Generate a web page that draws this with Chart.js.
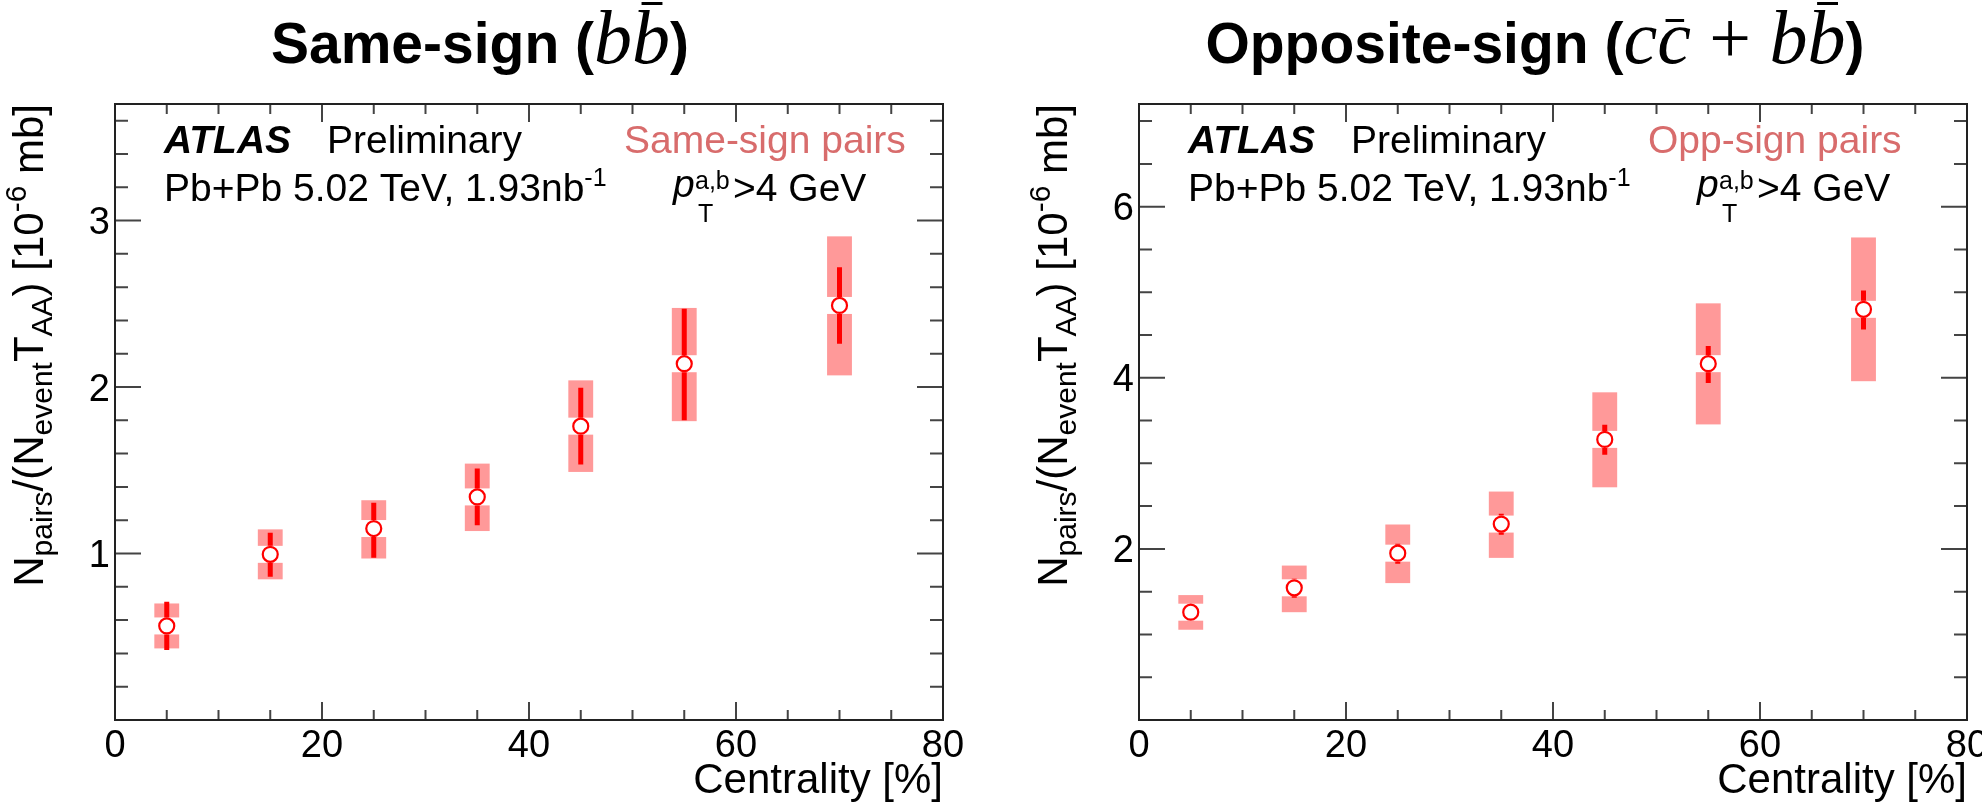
<!DOCTYPE html>
<html>
<head>
<meta charset="utf-8">
<script src="https://cdn.jsdelivr.net/npm/chart.js@4"></script>
<style>
  html, body { margin: 0; padding: 0; background: #fff; }
  #wrap { position: relative; width: 1982px; height: 802px; }
  canvas { position: absolute; top: 0; }
</style>
</head>
<body>
<div id="wrap">
  <canvas id="left" width="991" height="802" style="left:0"></canvas>
  <canvas id="right" width="991" height="802" style="left:991px"></canvas>
</div>
<script>
// centrality bins [%]
const centrality = [5, 15, 25, 35, 45, 55, 70];
const sysHalfWidth = 1.2;

// same-sign pairs (b bbar), 10^-6 mb
const sameVal     = [0.565, 0.995, 1.15, 1.34, 1.765, 2.14, 2.49];
const sameStatLo  = [0.42, 0.86, 0.975, 1.17, 1.535, 1.80, 2.26];
const sameStatHi  = [0.71, 1.125, 1.305, 1.51, 1.995, 2.47, 2.72];
const sameSysLo   = [0.43, 0.845, 0.97, 1.135, 1.49, 1.795, 2.07];
const sameSysHi   = [0.70, 1.145, 1.32, 1.54, 2.04, 2.475, 2.905];

// opposite-sign pairs (c cbar + b bbar)
const oppVal     = [1.26, 1.545, 1.95, 2.29, 3.28, 4.165, 4.80];
const oppStatLo  = [1.17, 1.43, 1.825, 2.165, 3.10, 3.94, 4.565];
const oppStatHi  = [1.35, 1.65, 2.06, 2.41, 3.45, 4.37, 5.02];
const oppSysLo   = [1.055, 1.26, 1.60, 1.895, 2.72, 3.455, 3.96];
const oppSysHi   = [1.46, 1.805, 2.285, 2.67, 3.83, 4.87, 5.64];

// axes
const xTicks = [0, 20, 40, 60, 80];
const sameYTicks = [1, 2, 3];
const oppYTicks = [2, 4, 6];

const SANS = '"Liberation Sans", Arial, sans-serif';
const SERIF = '"Liberation Serif", "Times New Roman", serif';

function rich(ctx, parts, x, y, align) {
  let w = 0;
  parts.forEach(p => { ctx.font = p.font; w += ctx.measureText(p.t).width; });
  let cx = align === 'center' ? x - w / 2 : (align === 'right' ? x - w : x);
  parts.forEach(p => {
    ctx.font = p.font;
    ctx.fillStyle = p.color || '#000';
    ctx.textAlign = 'left';
    ctx.textBaseline = 'alphabetic';
    ctx.fillText(p.t, cx, y + (p.dy || 0));
    const pw = ctx.measureText(p.t).width;
    if (p.barY !== undefined) {
      ctx.fillRect(cx + pw * 0.25, y - p.barY, pw * 0.55, 3);
    }
    cx += pw;
  });
  return w;
}

const errorBoxes = {
  id: 'errorBoxes',
  beforeDatasetsDraw(chart, args, o) {
    const { ctx } = chart;
    const x = chart.scales.x, y = chart.scales.y;
    const gap = 8.5;
    ctx.save();
    o.xs.forEach((cx, i) => {
      const xl = x.getPixelForValue(cx - sysHalfWidth);
      const xr = x.getPixelForValue(cx + sysHalfWidth);
      const xc = x.getPixelForValue(cx);
      const yc = y.getPixelForValue(o.val[i]);
      const t = y.getPixelForValue(o.sysHi[i]);
      const b = y.getPixelForValue(o.sysLo[i]);
      ctx.fillStyle = '#ff9999';
      if (yc - gap > t) ctx.fillRect(xl, t, xr - xl, yc - gap - t);
      if (b > yc + gap) ctx.fillRect(xl, yc + gap, xr - xl, b - yc - gap);
      const st = y.getPixelForValue(o.statHi[i]);
      const sb = y.getPixelForValue(o.statLo[i]);
      ctx.strokeStyle = '#ff0000';
      ctx.lineWidth = 5;
      ctx.beginPath();
      if (st < yc - gap) { ctx.moveTo(xc, st); ctx.lineTo(xc, yc - gap); }
      if (sb > yc + gap) { ctx.moveTo(xc, yc + gap); ctx.lineTo(xc, sb); }
      ctx.stroke();
    });
    ctx.restore();
  }
};

const frame = {
  id: 'frame',
  afterDraw(chart, args, o) {
    const { ctx, chartArea: a } = chart;
    const x = chart.scales.x, y = chart.scales.y;
    ctx.save();
    // ticks
    ctx.strokeStyle = '#444';
    ctx.lineWidth = 2;
    ctx.beginPath();
    for (let v = 5; v < 80; v += 5) {
      const px = x.getPixelForValue(v);
      const len = v % 20 === 0 ? 18 : 10;
      ctx.moveTo(px, a.bottom); ctx.lineTo(px, a.bottom - len);
      ctx.moveTo(px, a.top); ctx.lineTo(px, a.top + len);
    }
    const n = Math.floor(o.yMax / o.minor + 1e-6);
    for (let k = 1; k <= n; k++) {
      const v = k * o.minor;
      if (v >= o.yMax - 1e-6) continue;
      const py = y.getPixelForValue(v);
      const major = Math.abs(v / o.major - Math.round(v / o.major)) < 1e-6;
      const len = major ? 26 : 13;
      ctx.moveTo(a.left, py); ctx.lineTo(a.left + len, py);
      ctx.moveTo(a.right, py); ctx.lineTo(a.right - len, py);
    }
    ctx.stroke();
    // frame
    ctx.strokeStyle = '#222';
    ctx.strokeRect(a.left, a.top, a.right - a.left, a.bottom - a.top);

    // tick labels
    ctx.fillStyle = '#000';
    ctx.font = '38px ' + SANS;
    ctx.textAlign = 'center';
    ctx.textBaseline = 'alphabetic';
    xTicks.forEach(v => ctx.fillText(String(v), x.getPixelForValue(v), a.bottom + 37));
    ctx.textAlign = 'right';
    o.yTicks.forEach(v => ctx.fillText(String(v), a.left - 5, y.getPixelForValue(v) + 13.5));

    // x title
    ctx.font = '42px ' + SANS;
    ctx.textAlign = 'right';
    ctx.fillText('Centrality [%]', a.right, 793);

    // y title (rotated, aligned to top of axis)
    const big = '42px ' + SANS, small = '30px ' + SANS;
    const yParts = [
      { t: 'N', font: big }, { t: 'pairs', font: small, dy: 9 },
      { t: '/(N', font: big }, { t: 'event', font: small, dy: 9 },
      { t: 'T', font: big }, { t: 'AA', font: small, dy: 9 },
      { t: ') [10', font: big }, { t: '-6', font: small, dy: -17 },
      { t: ' mb]', font: big }
    ];
    let tw = 0;
    yParts.forEach(p => { ctx.font = p.font; tw += ctx.measureText(p.t).width; });
    ctx.translate(a.left - 72, a.top + tw);
    ctx.rotate(-Math.PI / 2);
    rich(ctx, yParts, 0, 0, 'left');
    ctx.setTransform(1, 0, 0, 1, 0, 0);

    // labels inside the frame
    const l = a.left;
    const t39 = '39px ' + SANS, s24 = '25px ' + SANS;
    ctx.font = 'bold italic 39px ' + SANS;
    ctx.textAlign = 'left';
    ctx.fillStyle = '#000';
    ctx.fillText('ATLAS', l + 49, 153);
    ctx.font = t39;
    ctx.fillText('Preliminary', l + 212, 153);
    ctx.fillStyle = '#d86c6c';
    ctx.fillText(o.label, l + 509, 153);
    rich(ctx, [
      { t: 'Pb+Pb 5.02 TeV, 1.93nb', font: t39 },
      { t: '-1', font: s24, dy: -15 }
    ], l + 49, 201, 'left');
    ctx.fillStyle = '#000';
    ctx.font = 'italic 39px ' + SANS;
    ctx.fillText('p', l + 558, 197);
    ctx.font = s24;
    ctx.fillText('T', l + 583, 222);
    ctx.fillText('a,b', l + 580, 189);
    ctx.font = t39;
    ctx.fillText('>4 GeV', l + 618, 201);

    // panel title
    rich(ctx, o.title, o.titleX, 63, 'center');
    ctx.restore();
  }
};

function toPoints(vals) {
  return centrality.map((c, i) => ({ x: c, y: vals[i] }));
}

function makePanel(id, cfg) {
  return new Chart(document.getElementById(id), {
    type: 'scatter',
    data: {
      datasets: [{
        data: toPoints(cfg.val),
        pointStyle: 'circle',
        pointRadius: 7.5,
        pointBorderWidth: 2.2,
        pointBackgroundColor: '#ffffff',
        pointBorderColor: '#ff0000'
      }]
    },
    options: {
      responsive: false,
      animation: false,
      devicePixelRatio: 1,
      layout: { padding: cfg.padding },
      scales: {
        x: { type: 'linear', min: 0, max: 80, display: false },
        y: { type: 'linear', min: 0, max: cfg.yMax, display: false }
      },
      plugins: {
        legend: { display: false },
        tooltip: { enabled: false },
        errorBoxes: {
          xs: centrality, val: cfg.val,
          statLo: cfg.statLo, statHi: cfg.statHi,
          sysLo: cfg.sysLo, sysHi: cfg.sysHi
        },
        frame: {
          yMax: cfg.yMax, major: cfg.major, minor: cfg.minor,
          yTicks: cfg.yTicks, label: cfg.label,
          title: cfg.title, titleX: cfg.titleX
        }
      }
    },
    plugins: [errorBoxes, frame]
  });
}

const boldT = 'bold 57px ' + SANS;
const itT = 'italic 76px ' + SERIF;
const romT = '74px ' + SERIF;

makePanel('left', {
  val: sameVal, statLo: sameStatLo, statHi: sameStatHi,
  sysLo: sameSysLo, sysHi: sameSysHi,
  yMax: 3.7, major: 1, minor: 0.2, yTicks: sameYTicks,
  padding: { left: 115, right: 48, top: 104, bottom: 82 },
  label: 'Same-sign pairs',
  titleX: 480,
  title: [
    { t: 'Same-sign (', font: boldT },
    { t: 'b', font: itT },
    { t: 'b', font: itT, barY: 61 },
    { t: ')', font: boldT }
  ]
});

makePanel('right', {
  val: oppVal, statLo: oppStatLo, statHi: oppStatHi,
  sysLo: oppSysLo, sysHi: oppSysHi,
  yMax: 7.2, major: 2, minor: 0.5, yTicks: oppYTicks,
  padding: { left: 148, right: 15, top: 104, bottom: 82 },
  label: 'Opp-sign pairs',
  titleX: 544,
  title: [
    { t: 'Opposite-sign (', font: boldT },
    { t: 'c', font: itT },
    { t: 'c', font: itT, barY: 44 },
    { t: ' + ', font: romT },
    { t: 'b', font: itT },
    { t: 'b', font: itT, barY: 61 },
    { t: ')', font: boldT }
  ]
});
</script>
</body>
</html>
